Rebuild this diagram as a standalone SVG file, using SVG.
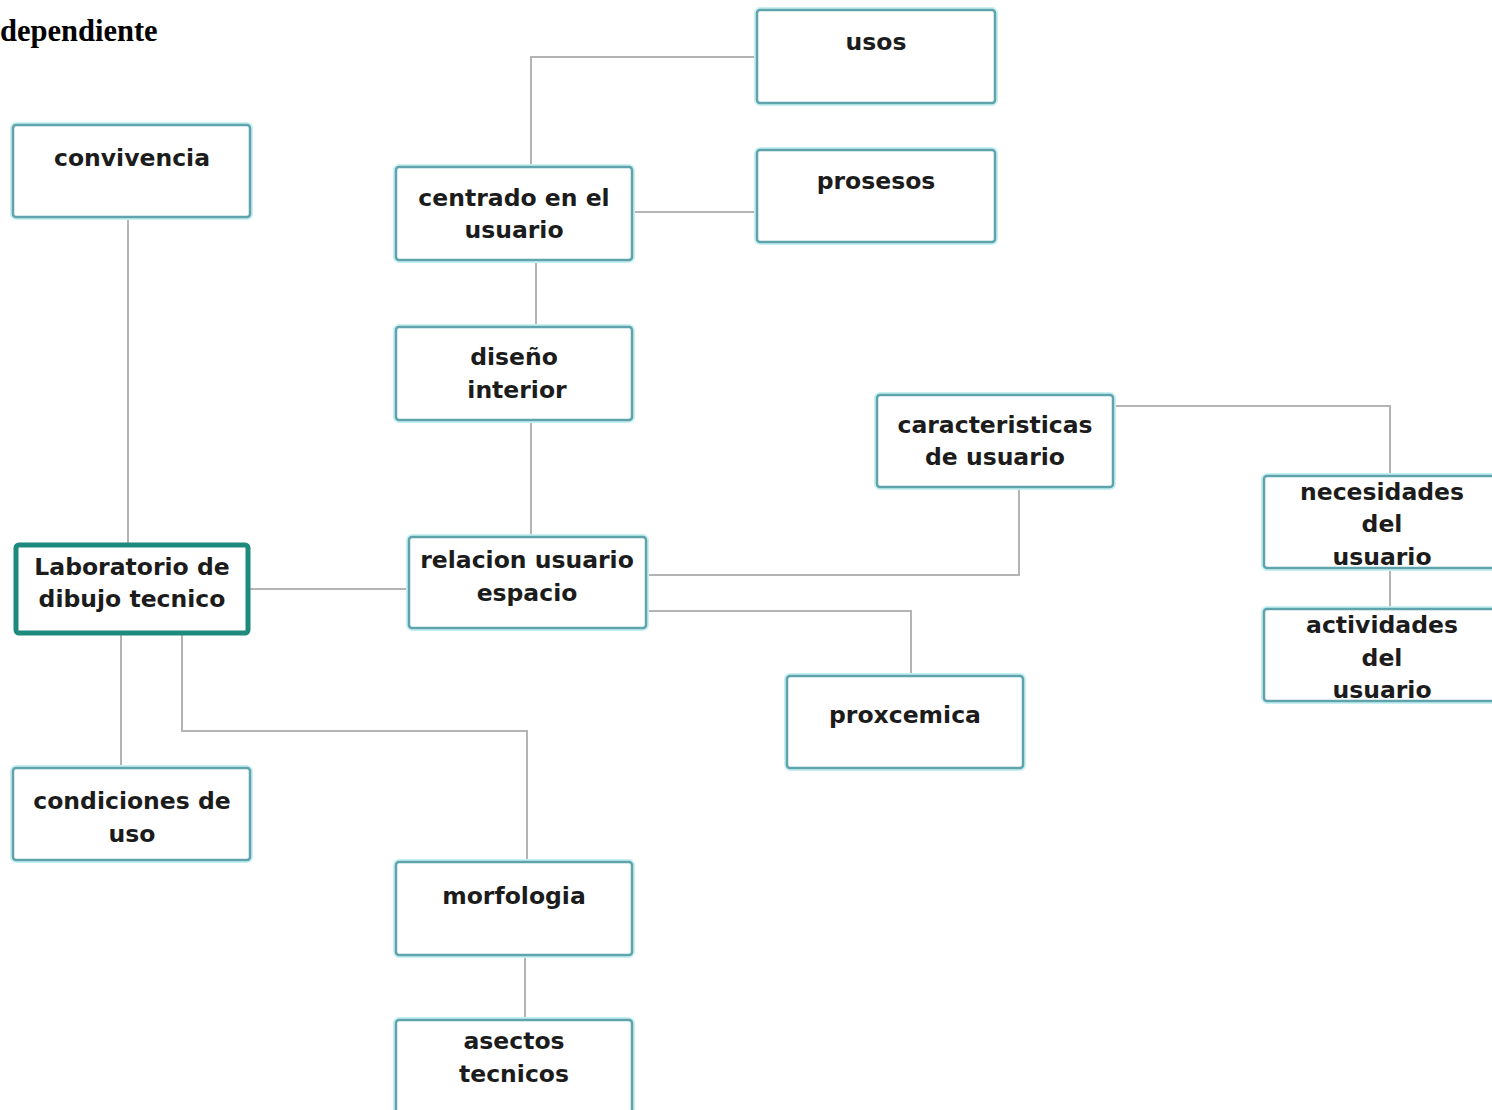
<svg xmlns="http://www.w3.org/2000/svg" width="1492" height="1110" viewBox="0 0 1492 1110">
<style>
.box{fill:#ffffff;stroke:#5fa3ad;stroke-width:2.5}
.glow{fill:none;stroke:#c8f0f2;stroke-width:6}
.main{fill:#ffffff;stroke:#1e8a7c;stroke-width:5}
.t{font-family:"DejaVu Sans","Noto Sans",sans-serif;font-weight:bold;font-size:23.5px;fill:#1c1c1c;text-anchor:middle}
.c{fill:none;stroke:#b4b4b4;stroke-width:2}
</style>
<rect width="1492" height="1110" fill="#ffffff"/>
<text x="0" y="41" font-family="Liberation Serif,serif" font-weight="bold" font-size="30.5" fill="#000">dependiente</text>
<g id="connectors">
<path class="c" d="M757 57 H531 V167"/>
<path class="c" d="M632 212 H757"/>
<path class="c" d="M536 260 V327"/>
<path class="c" d="M531 420 V537"/>
<path class="c" d="M128 217 V545"/>
<path class="c" d="M248 589 H409"/>
<path class="c" d="M646 575 H1019 V487"/>
<path class="c" d="M1113 406 H1390 V476"/>
<path class="c" d="M1390 568 V609"/>
<path class="c" d="M646 611 H911 V676"/>
<path class="c" d="M121 633 V768"/>
<path class="c" d="M182 633 V731 H527 V862"/>
<path class="c" d="M525 955 V1020"/>
</g>
<g id="n-convivencia"><rect class="glow" x="13" y="125" width="237" height="92" rx="3"/><rect class="box" x="13" y="125" width="237" height="92" rx="3"/><text class="t" x="132" y="166">convivencia</text></g>
<g id="n-usos"><rect class="glow" x="757" y="10" width="238" height="93" rx="3"/><rect class="box" x="757" y="10" width="238" height="93" rx="3"/><text class="t" x="876" y="50">usos</text></g>
<g id="n-prosesos"><rect class="glow" x="757" y="150" width="238" height="92" rx="3"/><rect class="box" x="757" y="150" width="238" height="92" rx="3"/><text class="t" x="876" y="189">prosesos</text></g>
<g id="n-centrado"><rect class="glow" x="396" y="167" width="236" height="93" rx="3"/><rect class="box" x="396" y="167" width="236" height="93" rx="3"/><text class="t" x="514" y="206">centrado en el</text><text class="t" x="514" y="238">usuario</text></g>
<g id="n-diseno"><rect class="glow" x="396" y="327" width="236" height="93" rx="3"/><rect class="box" x="396" y="327" width="236" height="93" rx="3"/><text class="t" x="514" y="365">diseño</text><text class="t" x="517" y="398">interior</text></g>
<g id="n-caracteristicas"><rect class="glow" x="877" y="395" width="236" height="92" rx="3"/><rect class="box" x="877" y="395" width="236" height="92" rx="3"/><text class="t" x="995" y="433">caracteristicas</text><text class="t" x="995" y="465">de usuario</text></g>
<g id="n-necesidades"><rect class="glow" x="1264" y="476" width="240" height="92" rx="3"/><rect class="box" x="1264" y="476" width="240" height="92" rx="3"/><text class="t" x="1382" y="500">necesidades</text><text class="t" x="1382" y="532">del</text><text class="t" x="1382" y="565">usuario</text></g>
<g id="n-actividades"><rect class="glow" x="1264" y="609" width="240" height="92" rx="3"/><rect class="box" x="1264" y="609" width="240" height="92" rx="3"/><text class="t" x="1382" y="633">actividades</text><text class="t" x="1382" y="666">del</text><text class="t" x="1382" y="698">usuario</text></g>
<g id="n-laboratorio"><rect class="main" x="16" y="545" width="232" height="88" rx="3"/><text class="t" x="132" y="575">Laboratorio de</text><text class="t" x="132" y="607">dibujo tecnico</text></g>
<g id="n-relacion"><rect class="glow" x="409" y="537" width="237" height="91" rx="3"/><rect class="box" x="409" y="537" width="237" height="91" rx="3"/><text class="t" x="527" y="568">relacion usuario</text><text class="t" x="527" y="601">espacio</text></g>
<g id="n-proxcemica"><rect class="glow" x="787" y="676" width="236" height="92" rx="3"/><rect class="box" x="787" y="676" width="236" height="92" rx="3"/><text class="t" x="905" y="723">proxcemica</text></g>
<g id="n-condiciones"><rect class="glow" x="13" y="768" width="237" height="92" rx="3"/><rect class="box" x="13" y="768" width="237" height="92" rx="3"/><text class="t" x="132" y="809">condiciones de</text><text class="t" x="132" y="842">uso</text></g>
<g id="n-morfologia"><rect class="glow" x="396" y="862" width="236" height="93" rx="3"/><rect class="box" x="396" y="862" width="236" height="93" rx="3"/><text class="t" x="514" y="904">morfologia</text></g>
<g id="n-asectos"><rect class="glow" x="396" y="1020" width="236" height="95" rx="3"/><rect class="box" x="396" y="1020" width="236" height="95" rx="3"/><text class="t" x="514" y="1049">asectos</text><text class="t" x="514" y="1082">tecnicos</text></g>
</svg>
